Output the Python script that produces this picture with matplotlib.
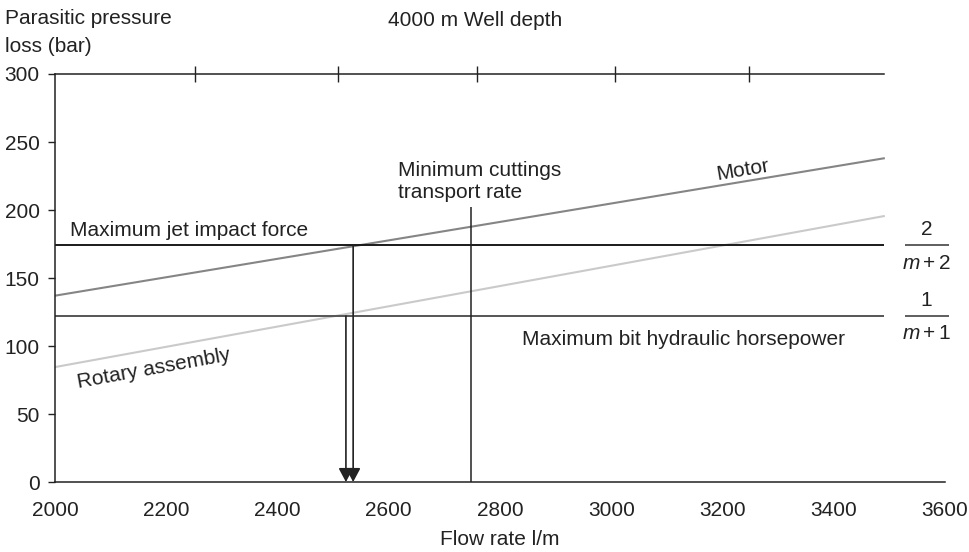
import matplotlib
matplotlib.use("Agg")
import matplotlib.pyplot as plt

plt.rcParams['font.family'] = ['Liberation Sans', 'DejaVu Sans']
plt.rcParams['mathtext.fontset'] = 'custom'
plt.rcParams['mathtext.rm'] = 'Liberation Sans'
plt.rcParams['mathtext.it'] = 'Liberation Sans:italic'

# ---- data ----
flow_ends = [2000, 3490]
motor_loss = [137, 238]
rotary_loss = [84.5, 195.5]
jet_force_level = 174
bit_hhp_level = 122
min_transport_flow = 2747
min_transport_top = 202
arrow_flows = [2523, 2536]
arrow_tops = [122, 174]
well_depth_ticks = [2251, 2508, 2759, 3007, 3247]
x_ticks = [2000, 2200, 2400, 2600, 2800, 3000, 3200, 3400, 3600]
x_marks = [2200, 2400, 2600, 2800, 3000, 3200, 3400]
y_ticks = [0, 50, 100, 150, 200, 250, 300]

FS = 15
TXT = '#222222'

fig = plt.figure(figsize=(9.69, 5.52), dpi=100)
ax = fig.add_axes([55/969, (552-482)/552, (945-55)/969, (482-74)/552])
ax.set_xlim(2000, 3600)
ax.set_ylim(0, 300)

for s in ['top', 'right']:
    ax.spines[s].set_visible(False)
for s in ['left', 'bottom']:
    ax.spines[s].set_linewidth(1.1)
    ax.spines[s].set_color('#222222')

ax.set_xticks(x_ticks)
ax.set_xticklabels([str(v) for v in x_ticks], fontsize=FS, color=TXT)
ax.tick_params(axis='x', which='major', length=0, pad=14)
ax.set_xticks(x_marks, minor=True)
ax.tick_params(axis='x', which='minor', direction='inout', length=11, width=1.0, color='#222222')
ax.set_yticks(y_ticks)
ax.set_yticklabels([str(v) for v in y_ticks], fontsize=FS, color=TXT)
ax.tick_params(axis='y', direction='out', length=5, width=1.0, pad=6, color='#222222')
ax.set_xlabel('Flow rate l/m', fontsize=FS, color=TXT, labelpad=7)

# top well depth axis
ax2 = ax.twiny()
ax2.set_xlim(ax.get_xlim())
for s in ['bottom', 'left', 'right']:
    ax2.spines[s].set_visible(False)
ax2.spines['top'].set_bounds(flow_ends[0], flow_ends[1])
ax2.spines['top'].set_linewidth(1.1)
ax2.spines['top'].set_color('#222222')
ax2.set_xticks(well_depth_ticks)
ax2.set_xticklabels([])
ax2.tick_params(axis='x', direction='inout', length=11, width=1.0, color='#222222')

# lines
ax.plot(flow_ends, motor_loss, color='#858585', lw=1.5)
ax.plot(flow_ends, rotary_loss, color='#cacaca', lw=1.5)
ax.hlines(jet_force_level, flow_ends[0], flow_ends[1], color='#1a1a1a', lw=1.4)
ax.hlines(bit_hhp_level, flow_ends[0], flow_ends[1], color='#555555', lw=1.4)
ax.vlines(min_transport_flow, 0, min_transport_top, color='#222222', lw=1.1)

for xf, yt in zip(arrow_flows, arrow_tops):
    ax.annotate('', xy=(xf, 0), xytext=(xf, yt),
                arrowprops=dict(arrowstyle='-|>,head_length=0.75,head_width=0.4',
                                mutation_scale=11, shrinkA=0, shrinkB=0,
                                lw=1.2, color='#222222'))

# labels
ax.text(2027, 181, 'Maximum jet impact force', fontsize=FS, color=TXT, va='baseline')
ax.text(2617, 209, 'Minimum cuttings\ntransport rate', fontsize=FS, color=TXT,
        va='baseline', linespacing=1.2)
ax.text(3237, 229, 'Motor', fontsize=FS, color=TXT, rotation=9.5,
        ha='center', va='center', rotation_mode='anchor')
ax.text(2177, 83, 'Rotary assembly', fontsize=FS, color=TXT, rotation=10.3,
        ha='center', va='center', rotation_mode='anchor')
ax.text(2840, 105, 'Maximum bit hydraulic horsepower', fontsize=FS, color=TXT,
        va='center')

# fractions on the right
frac_x = 3567
for num, den, lvl in [('2', r'$m+2$', jet_force_level), ('1', r'$m+1$', bit_hhp_level)]:
    ax.text(frac_x, lvl + 11.5, num, fontsize=FS, color=TXT, ha='center', va='center', clip_on=False)
    ax.hlines(lvl, 3528, 3607, color='#333333', lw=1.1, clip_on=False)
    ax.text(frac_x, lvl - 13, den, fontsize=FS, color=TXT, ha='center', va='center', clip_on=False)

fig.text(5/969, 1 - 19/552, 'Parasitic pressure', fontsize=FS, color=TXT, va='center')
fig.text(5/969, 1 - 46/552, 'loss (bar)', fontsize=FS, color=TXT, va='center')
fig.text(475/969, 1 - 20/552, '4000 m Well depth', fontsize=FS, color=TXT, ha='center', va='center')

fig.savefig('out.png', dpi=100)
